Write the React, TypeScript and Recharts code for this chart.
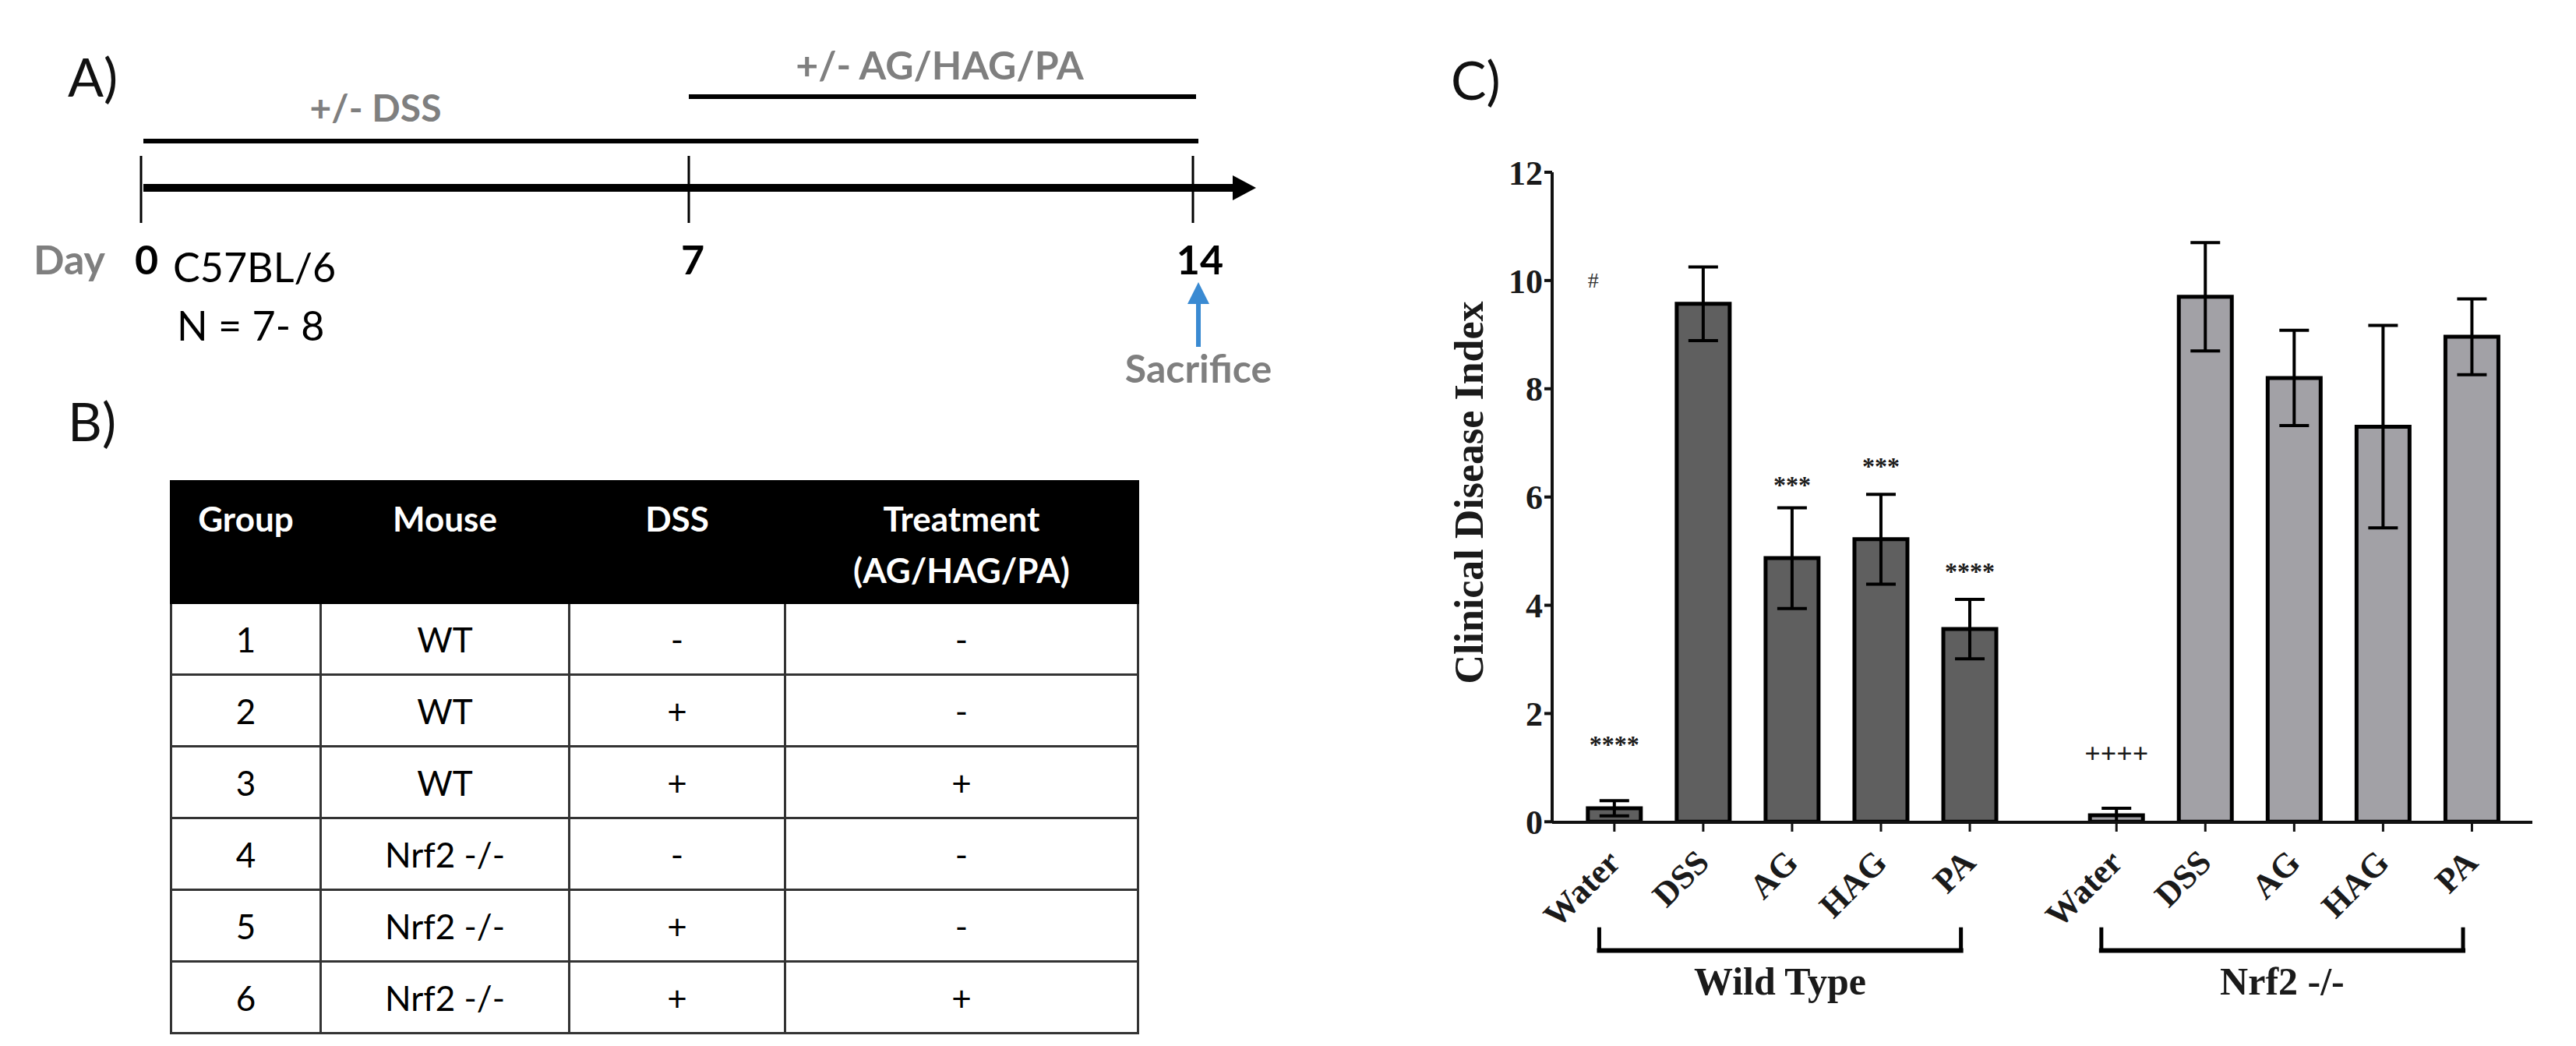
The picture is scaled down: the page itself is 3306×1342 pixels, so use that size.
import React from "react"
import { ComposedChart, Bar, Cell, ErrorBar, XAxis, YAxis, Scatter, ReferenceLine } from "recharts"

// ---- panel C data ----
const treatments = ["Water", "DSS", "AG", "HAG", "PA"]
const groupNames = ["Wild Type", "Nrf2 -/-"]
const wtMean = [0.25, 9.57, 4.87, 5.22, 3.56]
const wtSem = [0.14, 0.68, 0.93, 0.83, 0.55]
const koMean = [0.12, 9.7, 8.2, 7.3, 8.96]
const koSem = [0.13, 1.0, 0.88, 1.87, 0.7]
const wtSig = ["****", "", "***", "***", "****"]
const koSig = ["++++", "", "", "", ""]
const wtSigLevel = [1.5, 0, 6.3, 6.65, 4.7]
const koSigLevel = [1.25, 0, 0, 0, 0]
const hashLevel = 10
const yTicks = [0, 2, 4, 6, 8, 10, 12]

// ---- panel A / B data ----
const days = ["0", "7", "14"]
const tableHead = ["Group", "Mouse", "DSS", "Treatment"]
const tableGroup = ["1", "2", "3", "4", "5", "6"]
const tableMouse = ["WT", "WT", "WT", "Nrf2 -/-", "Nrf2 -/-", "Nrf2 -/-"]
const tableDss = ["-", "+", "+", "-", "+", "+"]
const tableTreatment = ["-", "-", "+", "-", "-", "+"]

const TIMES = "'Liberation Serif', 'Times New Roman', serif"
const SANS = "Lato, 'Open Sans', sans-serif"
const GRAY_TXT = "#7f7f7f"
const WT_FILL = "#5f5f5f"
const KO_FILL = "#a2a1a6"

// second group is pushed right to leave the gap seen in the figure
const GROUP_SHIFT = 5.65

const rows = [
  ...treatments.map((name, i) => ({ x: i, name, mean: wtMean[i], sem: wtSem[i], group: 0 })),
  ...treatments.map((name, i) => ({ x: i + GROUP_SHIFT, name, mean: koMean[i], sem: koSem[i], group: 1 })),
]

const sigRows = [
  ...wtSig.map((label, i) => ({ x: i, level: wtSigLevel[i], label, dx: 0 })),
  ...koSig.map((label, i) => ({ x: i + GROUP_SHIFT, level: koSigLevel[i], label, dx: 0 })),
  { x: 0, level: hashLevel, label: "#", dx: -27 },
].filter((r) => r.label !== "")

function CategoryTick(props: any) {
  const { x, y, payload } = props
  const row = rows.find((r) => r.x === payload.value)
  const ax = x + 10
  const ay = y + 40
  return (
    <text
      x={ax}
      y={ay}
      transform={`rotate(-45, ${ax}, ${ay})`}
      textAnchor="end"
      fontFamily={TIMES}
      fontWeight="bold"
      fontSize={44}
      fill="#1a1a1a"
    >
      {row ? row.name : ""}
    </text>
  )
}

function YTitle(props: any) {
  const vb = props.viewBox
  const cx = vb.x - 7
  const cy = vb.y + vb.height / 2 - 6
  return (
    <text
      x={cx}
      y={cy}
      transform={`rotate(-90, ${cx}, ${cy})`}
      textAnchor="middle"
      dominantBaseline="central"
      fontFamily={TIMES}
      fontWeight="bold"
      fontSize={52}
      fill="#1a1a1a"
    >
      Clinical Disease Index
    </text>
  )
}

function SigMark(props: any) {
  const { cx, cy, payload } = props
  if (payload.label === "#") {
    return (
      <text x={cx + payload.dx} y={cy + 9} textAnchor="middle" fontFamily={TIMES} fontSize={28} fill="#333">
        #
      </text>
    )
  }
  const plus = payload.label.startsWith("+")
  return (
    <text
      x={cx + payload.dx}
      y={cy + (plus ? 11 : 16)}
      textAnchor="middle"
      fontFamily={TIMES}
      fontWeight="bold"
      fontSize={plus ? 36 : 32}
      fill="#1a1a1a"
    >
      {payload.label}
    </text>
  )
}

const BRACKET_TOP = -1.95
const BRACKET_BOTTOM = -2.38

function groupLabel(text: string) {
  return (p: any) => {
    const vb = p.viewBox
    return (
      <text
        x={vb.x + vb.width / 2}
        y={vb.y + 56}
        textAnchor="middle"
        fontFamily={TIMES}
        fontWeight="bold"
        fontSize={50}
        fill="#1a1a1a"
      >
        {text}
      </text>
    )
  }
}

function PanelC() {
  return (
    <ComposedChart width={1506} height={1342} data={rows} margin={{ top: 221, right: 56, bottom: 87, left: 92 }}>
      <XAxis
        dataKey="x"
        type="number"
        domain={[-0.7, 4 + GROUP_SHIFT + 0.68]}
        ticks={rows.map((r) => r.x)}
        interval={0}
        allowDataOverflow
        height={200}
        tickSize={12}
        tickLine={{ stroke: "#111", strokeWidth: 3 }}
        axisLine={{ stroke: "#111", strokeWidth: 4 }}
        tick={<CategoryTick />}
      />
      <YAxis
        type="number"
        domain={[0, 12]}
        ticks={yTicks}
        interval={0}
        width={100}
        tickSize={10}
        tickLine={{ stroke: "#111", strokeWidth: 4 }}
        axisLine={{ stroke: "#111", strokeWidth: 4 }}
        tick={{ fontFamily: TIMES, fontWeight: "bold", fontSize: 44, fill: "#1a1a1a" }}
        label={<YTitle />}
      />
      <Bar dataKey="mean" barSize={68} stroke="#000" strokeWidth={5} isAnimationActive={false}>
        {rows.map((r, i) => (
          <Cell key={i} fill={r.group === 0 ? WT_FILL : KO_FILL} />
        ))}
        <ErrorBar dataKey="sem" width={19} stroke="#000" strokeWidth={4} direction="y" />
      </Bar>
      <Scatter data={sigRows} dataKey="level" shape={SigMark} isAnimationActive={false} />
      {groupNames.map((g, gi) => {
        const x1 = gi * GROUP_SHIFT - 0.17
        const x2 = gi * GROUP_SHIFT + 4 - 0.1
        return (
          <React.Fragment key={g}>
            <ReferenceLine
              segment={[{ x: x1, y: BRACKET_TOP }, { x: x1, y: BRACKET_BOTTOM }]}
              stroke="#000"
              strokeWidth={5}
              ifOverflow="visible"
            />
            <ReferenceLine
              segment={[{ x: x2, y: BRACKET_TOP }, { x: x2, y: BRACKET_BOTTOM }]}
              stroke="#000"
              strokeWidth={5}
              ifOverflow="visible"
            />
            <ReferenceLine
              segment={[{ x: x1, y: BRACKET_BOTTOM }, { x: x2, y: BRACKET_BOTTOM }]}
              stroke="#000"
              strokeWidth={6}
              strokeLinecap="square"
              ifOverflow="visible"
              label={groupLabel(g)}
            />
          </React.Fragment>
        )
      })}
    </ComposedChart>
  )
}

function PanelA() {
  const tickX = [181, 884, 1531]
  const dayX = [173, 889, 1540]
  return (
    <svg width={1700} height={560} style={{ position: "absolute", left: 0, top: 0 }}>
      <text x={87} y={124} fontFamily={SANS} fontSize={68} fill="#111">A)</text>
      <text x={1206} y={102} textAnchor="middle" fontFamily={SANS} fontWeight="bold" fontSize={50} fill={GRAY_TXT}>
        +/- AG/HAG/PA
      </text>
      <line x1={884} y1={124} x2={1535} y2={124} stroke="#000" strokeWidth={6} />
      <text x={482} y={156} textAnchor="middle" fontFamily={SANS} fontWeight="bold" fontSize={48} fill={GRAY_TXT}>
        +/- DSS
      </text>
      <line x1={184} y1={181} x2={1538} y2={181} stroke="#000" strokeWidth={6} />
      {tickX.map((x) => (
        <line key={x} x1={x} y1={200} x2={x} y2={286} stroke="#000" strokeWidth={3} />
      ))}
      <line x1={184} y1={241} x2={1588} y2={241} stroke="#000" strokeWidth={10} />
      <polygon points="1582,225 1612,241 1582,257" fill="#000" />
      <text x={43} y={352} fontFamily={SANS} fontWeight="bold" fontSize={52} fill={GRAY_TXT}>Day</text>
      {days.map((d, i) => (
        <text key={d} x={dayX[i]} y={352} textAnchor={i === 0 ? "start" : "middle"}
          fontFamily={SANS} fontWeight="bold" fontSize={52} fill="#000">
          {d}
        </text>
      ))}
      <text x={222} y={362} fontFamily={SANS} fontSize={52} fill="#000">C57BL/6</text>
      <text x={227} y={437} fontFamily={SANS} fontSize={52} fill="#000">N = 7- 8</text>
      <line x1={1538} y1={445} x2={1538} y2={385} stroke="#3a8ad2" strokeWidth={6} />
      <polygon points="1524,390 1538,362 1552,390" fill="#3a8ad2" />
      <text x={1538} y={491} textAnchor="middle" fontFamily={SANS} fontWeight="bold" fontSize={50} fill={GRAY_TXT}>
        Sacrifice
      </text>
    </svg>
  )
}

function PanelB() {
  const colW = [192, 319, 277, 453]
  const cell: React.CSSProperties = {
    border: "3px solid #333",
    textAlign: "center",
    verticalAlign: "middle",
    height: 89,
    padding: 0,
    color: "#000",
  }
  const head: React.CSSProperties = {
    background: "#000",
    color: "#fff",
    fontWeight: "bold",
    textAlign: "center",
    verticalAlign: "top",
    paddingTop: 13,
    lineHeight: "66px",
    height: 156,
    border: "3px solid #000",
    boxSizing: "border-box",
  }
  return (
    <>
      <div style={{ position: "absolute", left: 87, top: 500, fontFamily: SANS, fontSize: 68, color: "#111", lineHeight: "80px" }}>
        B)
      </div>
      <table
        style={{
          position: "absolute",
          left: 218,
          top: 616,
          width: 1241,
          borderCollapse: "collapse",
          tableLayout: "fixed",
          fontFamily: SANS,
          fontSize: 44,
        }}
      >
        <colgroup>
          {colW.map((w, i) => (
            <col key={i} style={{ width: w }} />
          ))}
        </colgroup>
        <thead>
          <tr>
            {tableHead.map((h, i) => (
              <th key={h} style={head}>
                {h}
                {i === 3 ? (
                  <>
                    <br />
                    (AG/HAG/PA)
                  </>
                ) : null}
              </th>
            ))}
          </tr>
        </thead>
        <tbody>
          {tableGroup.map((g, i) => (
            <tr key={g}>
              <td style={cell}>{g}</td>
              <td style={cell}>{tableMouse[i]}</td>
              <td style={cell}>{tableDss[i]}</td>
              <td style={cell}>{tableTreatment[i]}</td>
            </tr>
          ))}
        </tbody>
      </table>
    </>
  )
}

export default function App() {
  return (
    <div style={{ position: "absolute", left: 0, top: 0, width: 3306, height: 1342, background: "#fff", overflow: "hidden" }}>
      <PanelA />
      <PanelB />
      <div style={{ position: "absolute", left: 1862, top: 62, fontFamily: SANS, fontSize: 68, color: "#111", lineHeight: "80px" }}>
        C)
      </div>
      <div style={{ position: "absolute", left: 1800, top: 0 }}>
        <PanelC />
      </div>
    </div>
  )
}
